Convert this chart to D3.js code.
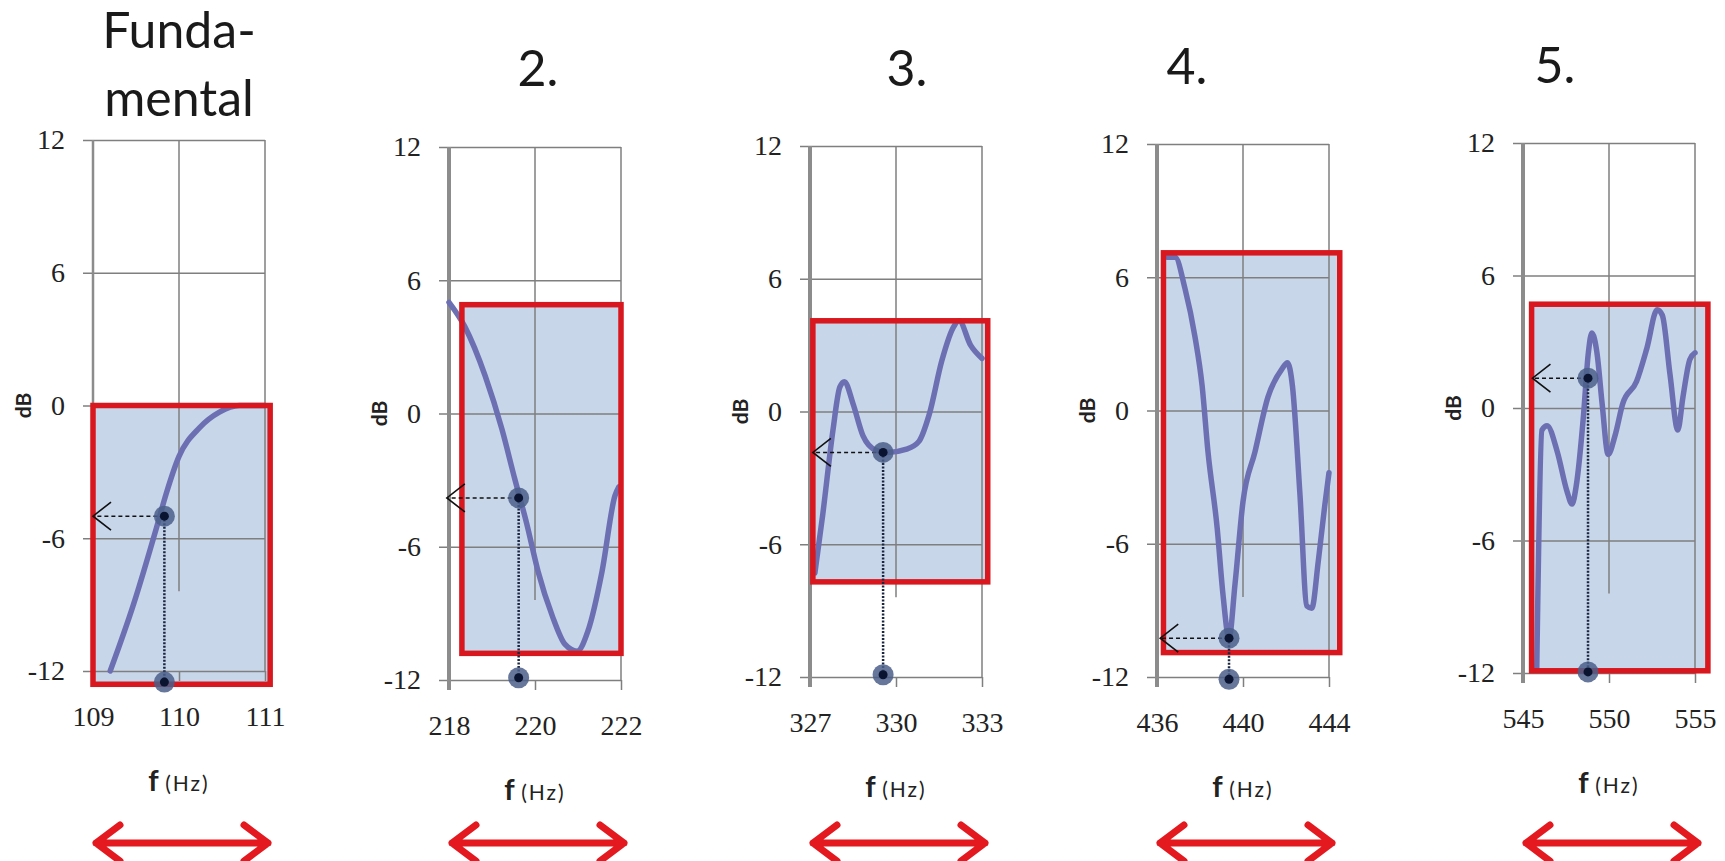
<!DOCTYPE html>
<html>
<head>
<meta charset="utf-8">
<script src="https://cdn.jsdelivr.net/npm/d3@7"></script>
<style>
  body { margin: 0; background: #fff; }
  svg { display: block; }
</style>
</head>
<body>
<div id="chart"></div>
<script>
// data
const titles = [['Funda-', 'mental'], ['2.'], ['3.'], ['4.'], ['5.']]
const freqTicks = [[109, 110, 111], [218, 220, 222], [327, 330, 333], [436, 440, 444], [545, 550, 555]]
const dbTicks = [12, 6, 0, -6, -12]

const curveFund = [[109.2, -12], [109.47, -9.0], [109.74, -5.5], [109.85, -4.0], [110.0, -2.3], [110.24, -1.0],
  [110.47, -0.3], [110.7, 0], [111, 0]]
const curve2 = [[218.0, 5.0], [218.37, 3.9], [218.84, 1.7], [219.23, -0.7], [219.53, -2.95], [219.8, -4.9],
  [220.07, -7.1], [220.4, -9.1], [220.7, -10.4], [220.98, -10.7], [221.23, -9.8], [221.56, -7.1],
  [221.86, -3.7], [221.95, -3.3]]
const curve3 = [[327.17, -7.3], [327.45, -4.6], [327.8, -0.85], [328.04, 1.1], [328.2, 1.35], [328.5, 0.36],
  [328.85, -1.1], [329.3, -1.75], [329.7, -1.85], [330.37, -1.7], [330.8, -1.35], [331.16, -0.13],
  [331.6, 2.3], [332.0, 3.8], [332.2, 4.1], [332.6, 3.0], [333.0, 2.4]]
const curve4 = [[436.47, 6.9], [436.84, 6.9], [437.3, 5.5], [437.77, 3.3], [438.1, 1.1], [438.37, -1.85],
  [438.8, -5.3], [439.07, -8.3], [439.35, -10.25], [439.63, -7.8], [440.0, -4.1], [440.56, -1.85],
  [441.16, 0.6], [441.8, 1.85], [442.07, 2.15], [442.3, 1.1], [442.65, -3.8], [442.97, -8.8],
  [443.2, -8.9], [443.5, -6.8], [443.8, -4.3], [444.0, -2.8]]
const curve5 = [[545.8, -11.8], [546.1, -1.0], [546.4, -0.8], [547.0, -2.0], [547.55, -3.75], [547.85, -4.35],
  [548.1, -3.5], [548.5, -0.5], [548.8, 2.5], [549.0, 3.4], [549.3, 2.5], [549.6, 0.2], [549.95, -2.1],
  [550.35, -1.25], [550.8, 0.2], [551.6, 1.2], [552.2, 2.7], [552.8, 4.45], [553.1, 4.2], [553.55, 1.5],
  [554.0, -1.0], [554.3, 0.5], [554.7, 2.2], [555.0, 2.5]]
const curves = [curveFund, curve2, curve3, curve4, curve5]

// highlighted band: [f from, f to], [dB top, dB bottom]
const bandFreq = [[109.0, 111.06], [218.3, 222.0], [327.1, 333.2], [436.3, 444.5], [545.5, 555.75]]
const bandDb = [[0, -12.6], [4.9, -10.8], [4.1, -7.7], [7.1, -10.9], [4.7, -11.9]]

// marked point and its projections
const markFreq = [109.83, 219.62, 329.55, 439.35, 548.78]
const markDb = [-5.0, -3.8, -1.85, -10.25, 1.35]
const baseDb = [-12.5, -11.9, -11.9, -12.1, -11.95]
const arrowFreq = [109.0, 217.95, 327.1, 436.15, 545.55]
const midGridEnd = -8.4

// layout
const W = 1725
const H = 861
const panelLeft = [93, 449, 810, 1157, 1523]
const panelTop = [140, 147, 146, 144, 143]
const panelBottom = [671, 680, 677, 677, 673]
const panelWidth = 172
const titleX = [179, 538, 907, 1187, 1555]
const titleBase = [[48, 116], [86], [86], [84], [83]]

const gridColor = '#7f7f7f'
const bandFill = '#c8d6ea'
const red = '#d8171e'
const curveColor = '#6c70b2'
const labelFont = '"Liberation Serif", serif'
const textFont = 'Lato, "Open Sans", sans-serif'

const svg = d3.select('#chart').append('svg')
  .attr('width', W)
  .attr('height', H)

const line = d3.line().curve(d3.curveMonotoneX)

curves.forEach((pts, i) => {
  const x = d3.scaleLinear()
    .domain(d3.extent(freqTicks[i]))
    .range([panelLeft[i], panelLeft[i] + panelWidth])
  const y = d3.scaleLinear()
    .domain([-12, 12])
    .range([panelBottom[i], panelTop[i]])
  const g = svg.append('g')

  // title
  const t = g.append('text')
    .attr('text-anchor', 'middle')
    .attr('font-family', textFont)
    .attr('font-size', 50)
    .attr('fill', '#1a1a1a')
  titles[i].forEach((s, k) => {
    t.append('tspan').attr('x', titleX[i]).attr('y', titleBase[i][k]).text(s)
  })

  // band fill
  g.append('rect')
    .attr('x', x(bandFreq[i][0]))
    .attr('y', y(bandDb[i][0]))
    .attr('width', x(bandFreq[i][1]) - x(bandFreq[i][0]))
    .attr('height', y(bandDb[i][1]) - y(bandDb[i][0]))
    .attr('fill', bandFill)

  // y axis with horizontal gridlines
  const yAxis = g.append('g')
    .attr('transform', 'translate(' + (panelLeft[i] - 10) + ',0)')
    .call(d3.axisLeft(y).tickValues(dbTicks).tickFormat(d => String(d))
      .tickSize(-(panelWidth + 10)).tickPadding(18))
  yAxis.select('.domain').remove()
  yAxis.selectAll('.tick line').attr('stroke', gridColor).attr('stroke-width', 1.5)
  yAxis.selectAll('.tick text')
    .attr('font-family', labelFont)
    .attr('font-size', 28)
    .attr('fill', '#222')

  // x axis ticks and labels
  const xAxis = g.append('g')
    .attr('transform', 'translate(0,' + y(-12) + ')')
    .call(d3.axisBottom(x).tickValues(freqTicks[i]).tickFormat(d => String(d))
      .tickSize(10).tickPadding(25))
  xAxis.select('.domain').remove()
  xAxis.selectAll('.tick line').attr('stroke', gridColor).attr('stroke-width', 1.5)
  xAxis.selectAll('.tick text')
    .attr('font-family', labelFont)
    .attr('font-size', 28)
    .attr('fill', '#222')

  // vertical gridlines: middle one stops short
  const fMid = freqTicks[i][1]
  const fMax = freqTicks[i][2]
  g.append('line')
    .attr('x1', x(fMid)).attr('x2', x(fMid))
    .attr('y1', y(12)).attr('y2', y(midGridEnd))
    .attr('stroke', gridColor).attr('stroke-width', 1.5)
  g.append('line')
    .attr('x1', x(fMax)).attr('x2', x(fMax))
    .attr('y1', y(12)).attr('y2', y(-12))
    .attr('stroke', gridColor).attr('stroke-width', 1.5)
  // left axis
  g.append('line')
    .attr('x1', x(freqTicks[i][0])).attr('x2', x(freqTicks[i][0]))
    .attr('y1', y(12)).attr('y2', y(-12) + 10)
    .attr('stroke', '#8c8c8c').attr('stroke-width', i === 0 ? 2.5 : 4)

  // dB label
  g.append('text')
    .attr('transform', 'translate(' + (panelLeft[i] - 62) + ',' + y(0) + ') rotate(-90)')
    .attr('text-anchor', 'middle')
    .attr('font-family', textFont)
    .attr('font-size', 21)
    .attr('font-weight', 'bold')
    .attr('fill', '#222')
    .text('dB')

  // f (Hz)
  const fl = g.append('text')
    .attr('x', x(fMid))
    .attr('y', y(-12) + 120)
    .attr('text-anchor', 'middle')
    .attr('font-family', textFont)
    .attr('fill', '#222')
  fl.append('tspan').attr('font-size', 29).attr('font-weight', 'bold').text('f ')
  fl.append('tspan').attr('font-size', 21).attr('letter-spacing', 2).text('(Hz)')

  // response curve
  g.append('path')
    .datum(pts)
    .attr('d', line.x(d => x(d[0])).y(d => y(d[1])))
    .attr('fill', 'none')
    .attr('stroke', curveColor)
    .attr('stroke-width', 5.5)
    .attr('stroke-linecap', 'round')
    .attr('stroke-linejoin', 'round')

  // band outline
  g.append('rect')
    .attr('x', x(bandFreq[i][0]))
    .attr('y', y(bandDb[i][0]))
    .attr('width', x(bandFreq[i][1]) - x(bandFreq[i][0]))
    .attr('height', y(bandDb[i][1]) - y(bandDb[i][0]))
    .attr('fill', 'none')
    .attr('stroke', red)
    .attr('stroke-width', 5.5)

  // projections of the marked point
  const mx = x(markFreq[i])
  const my = y(markDb[i])
  const ax = x(arrowFreq[i])
  g.append('line')
    .attr('x1', mx).attr('x2', ax).attr('y1', my).attr('y2', my)
    .attr('stroke', '#111').attr('stroke-width', 1.5).attr('stroke-dasharray', '4,3')
  g.append('path')
    .attr('d', 'M' + (ax + 18) + ',' + (my - 14) + 'L' + ax + ',' + my + 'L' + (ax + 18) + ',' + (my + 14))
    .attr('fill', 'none').attr('stroke', '#111').attr('stroke-width', 1.6)
  g.append('line')
    .attr('x1', mx).attr('x2', mx).attr('y1', my).attr('y2', y(baseDb[i]))
    .attr('stroke', '#1a2540').attr('stroke-width', 2.5).attr('stroke-dasharray', '2,1.5')

  // dots
  const dots = g.selectAll('.dot').data([markDb[i], baseDb[i]]).join('g')
  dots.append('circle')
    .attr('cx', mx).attr('cy', d => y(d)).attr('r', 10.5)
    .attr('fill', '#4b5f8a').attr('opacity', 0.85)
  dots.append('circle')
    .attr('cx', mx).attr('cy', d => y(d)).attr('r', 4.5)
    .attr('fill', '#0a1430')

  // red double arrow under the panel
  const ay = 843
  const a0 = x(freqTicks[i][0]) + 3
  const a1 = x(fMax) + 3
  g.append('path')
    .attr('d', 'M' + a0 + ',' + ay + 'H' + a1 +
      'M' + (a0 + 24) + ',' + (ay - 18) + 'L' + a0 + ',' + ay + 'L' + (a0 + 24) + ',' + (ay + 18) +
      'M' + (a1 - 24) + ',' + (ay - 18) + 'L' + a1 + ',' + ay + 'L' + (a1 - 24) + ',' + (ay + 18))
    .attr('fill', 'none')
    .attr('stroke', '#e3191f')
    .attr('stroke-width', 7)
    .attr('stroke-linecap', 'round')
    .attr('stroke-linejoin', 'round')
})
</script>
</body>
</html>
